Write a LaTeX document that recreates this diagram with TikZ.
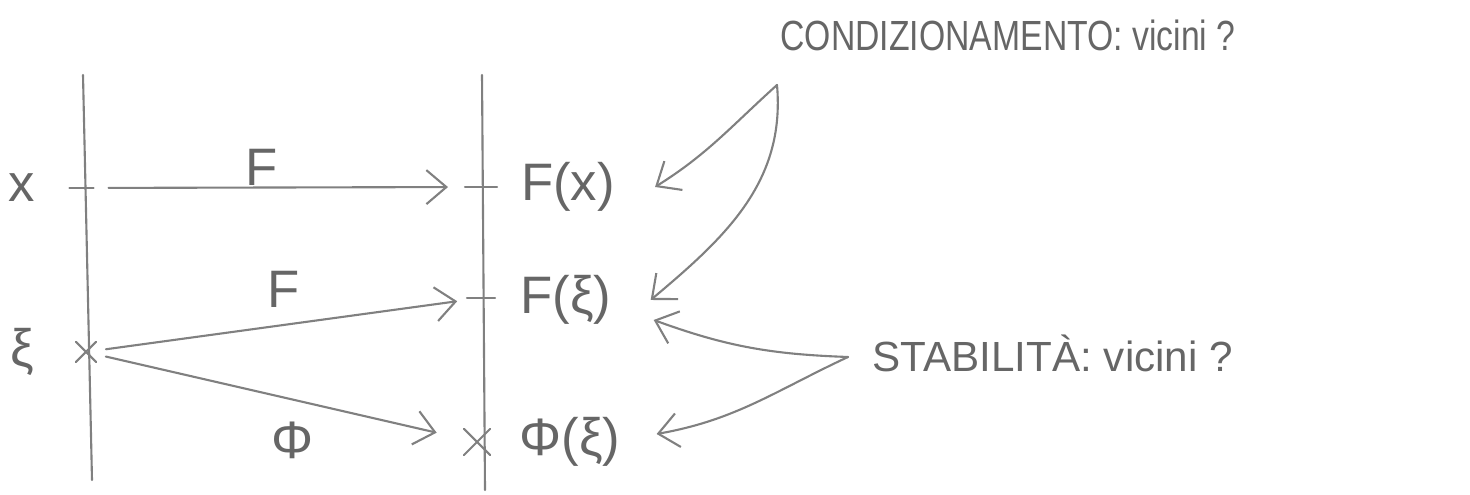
\documentclass[tikz,border=0pt]{standalone}
\usepackage{fontspec}
\setmainfont{Liberation Sans}
\usetikzlibrary{arrows.meta, shapes.misc}

\begin{document}
\begin{tikzpicture}
    % Define styles
    \tikzstyle{pencil} = [draw=black!50, line width=0.6pt, line cap=round]
    \tikzstyle{maparrow} = [pencil, -{Straight Barb[length=2mm, width=3.4mm]}]
    \tikzstyle{hand} = [text=black!60, font=\fontsize{15}{17}\selectfont, inner sep=1pt]
    \tikzstyle{notetext} = [text=black!60, font=\fontsize{12}{14}\selectfont, inner sep=0pt]
    \tikzstyle{crossmark} = [cross out, pencil, inner sep=0pt]

    \useasboundingbox (0,0) rectangle (14.7,4.95);

    % Axes
    \coordinate (ltop) at (0.83,4.20);
    \coordinate (lbot) at (0.92,0.15);
    \coordinate (rtop) at (4.82,4.20);
    \coordinate (rbot) at (4.85,0.05);
    \draw[pencil] (ltop) -- (lbot);
    \draw[pencil] (rtop) -- (rbot);

    % Points on the left axis
    \node[hand] (xlab) at (0.22,3.07) {x};
    \node[hand] (xilab) at (0.22,1.43) {ξ};
    \coordinate (xtick) at (0.845,3.07);
    \draw[pencil] ([xshift=-0.15cm]xtick) -- ([xshift=0.09cm]xtick);
    \node[crossmark, minimum size=0.18cm] (xicross) at (0.86,1.43) {};

    % Points on the right axis
    \coordinate (fxtick) at (4.81,3.08);
    \draw[pencil] ([xshift=-0.16cm]fxtick) -- ([xshift=0.16cm]fxtick);
    \coordinate (fxitick) at (4.81,1.97);
    \draw[pencil] ([xshift=-0.14cm]fxitick) -- ([xshift=0.14cm]fxitick);
    \node[crossmark, minimum size=0.24cm] (phicross) at (4.77,0.53) {};
    \node[hand] (fx) at (5.68,3.08) {F(x)};
    \node[hand] (fxi) at (5.66,1.95) {F(ξ)};
    \node[hand] (phixi) at (5.70,0.53) {Φ(ξ)};

    % Maps
    \draw[maparrow, shorten <=0.24cm, shorten >=0.33cm] (xtick) -- (fxtick);
    \node[hand] (flab) at (2.62,3.28) {F};
    \draw[maparrow, shorten <=0.1cm, shorten >=0.24cm] (xicross) -- (fxitick);
    \node[hand] (fxilab) at (2.84,2.06) {F};
    \draw[maparrow, shorten <=0.1cm, shorten >=0.28cm] (xicross) -- (phicross);
    \node[hand] (philab) at (2.93,0.55) {Φ};

    % Conditioning
    \node[notetext, anchor=west, xscale=0.8, transform shape] (cond) at (7.80,4.60) {CONDIZIONAMENTO: vicini ?};
    \coordinate (condfoot) at (7.77,4.10);
    \coordinate (fxin) at ([xshift=0.36cm]fx.east);
    \coordinate (fxiin) at ([xshift=0.35cm]fxi.east);
    \draw[maparrow] (condfoot) to[out=-138, in=32] (fxin);
    \draw[maparrow] (condfoot) to[out=-85, in=40] (fxiin);

    % Stability
    \node[notetext, anchor=west] (stab) at (8.72,1.42) {STABILITÀ: vicini ?};
    \coordinate (stabfoot) at ([xshift=-0.24cm, yshift=-0.04cm]stab.west);
    \coordinate (fxiout) at ([xshift=0.38cm, yshift=-0.2cm]fxi.east);
    \coordinate (phiin) at ([xshift=0.32cm, yshift=0.08cm]phixi.east);
    \draw[maparrow] (stabfoot) to[out=178, in=-20] (fxiout);
    \draw[maparrow] (stabfoot) to[out=205, in=10] (phiin);
\end{tikzpicture}
\end{document}
